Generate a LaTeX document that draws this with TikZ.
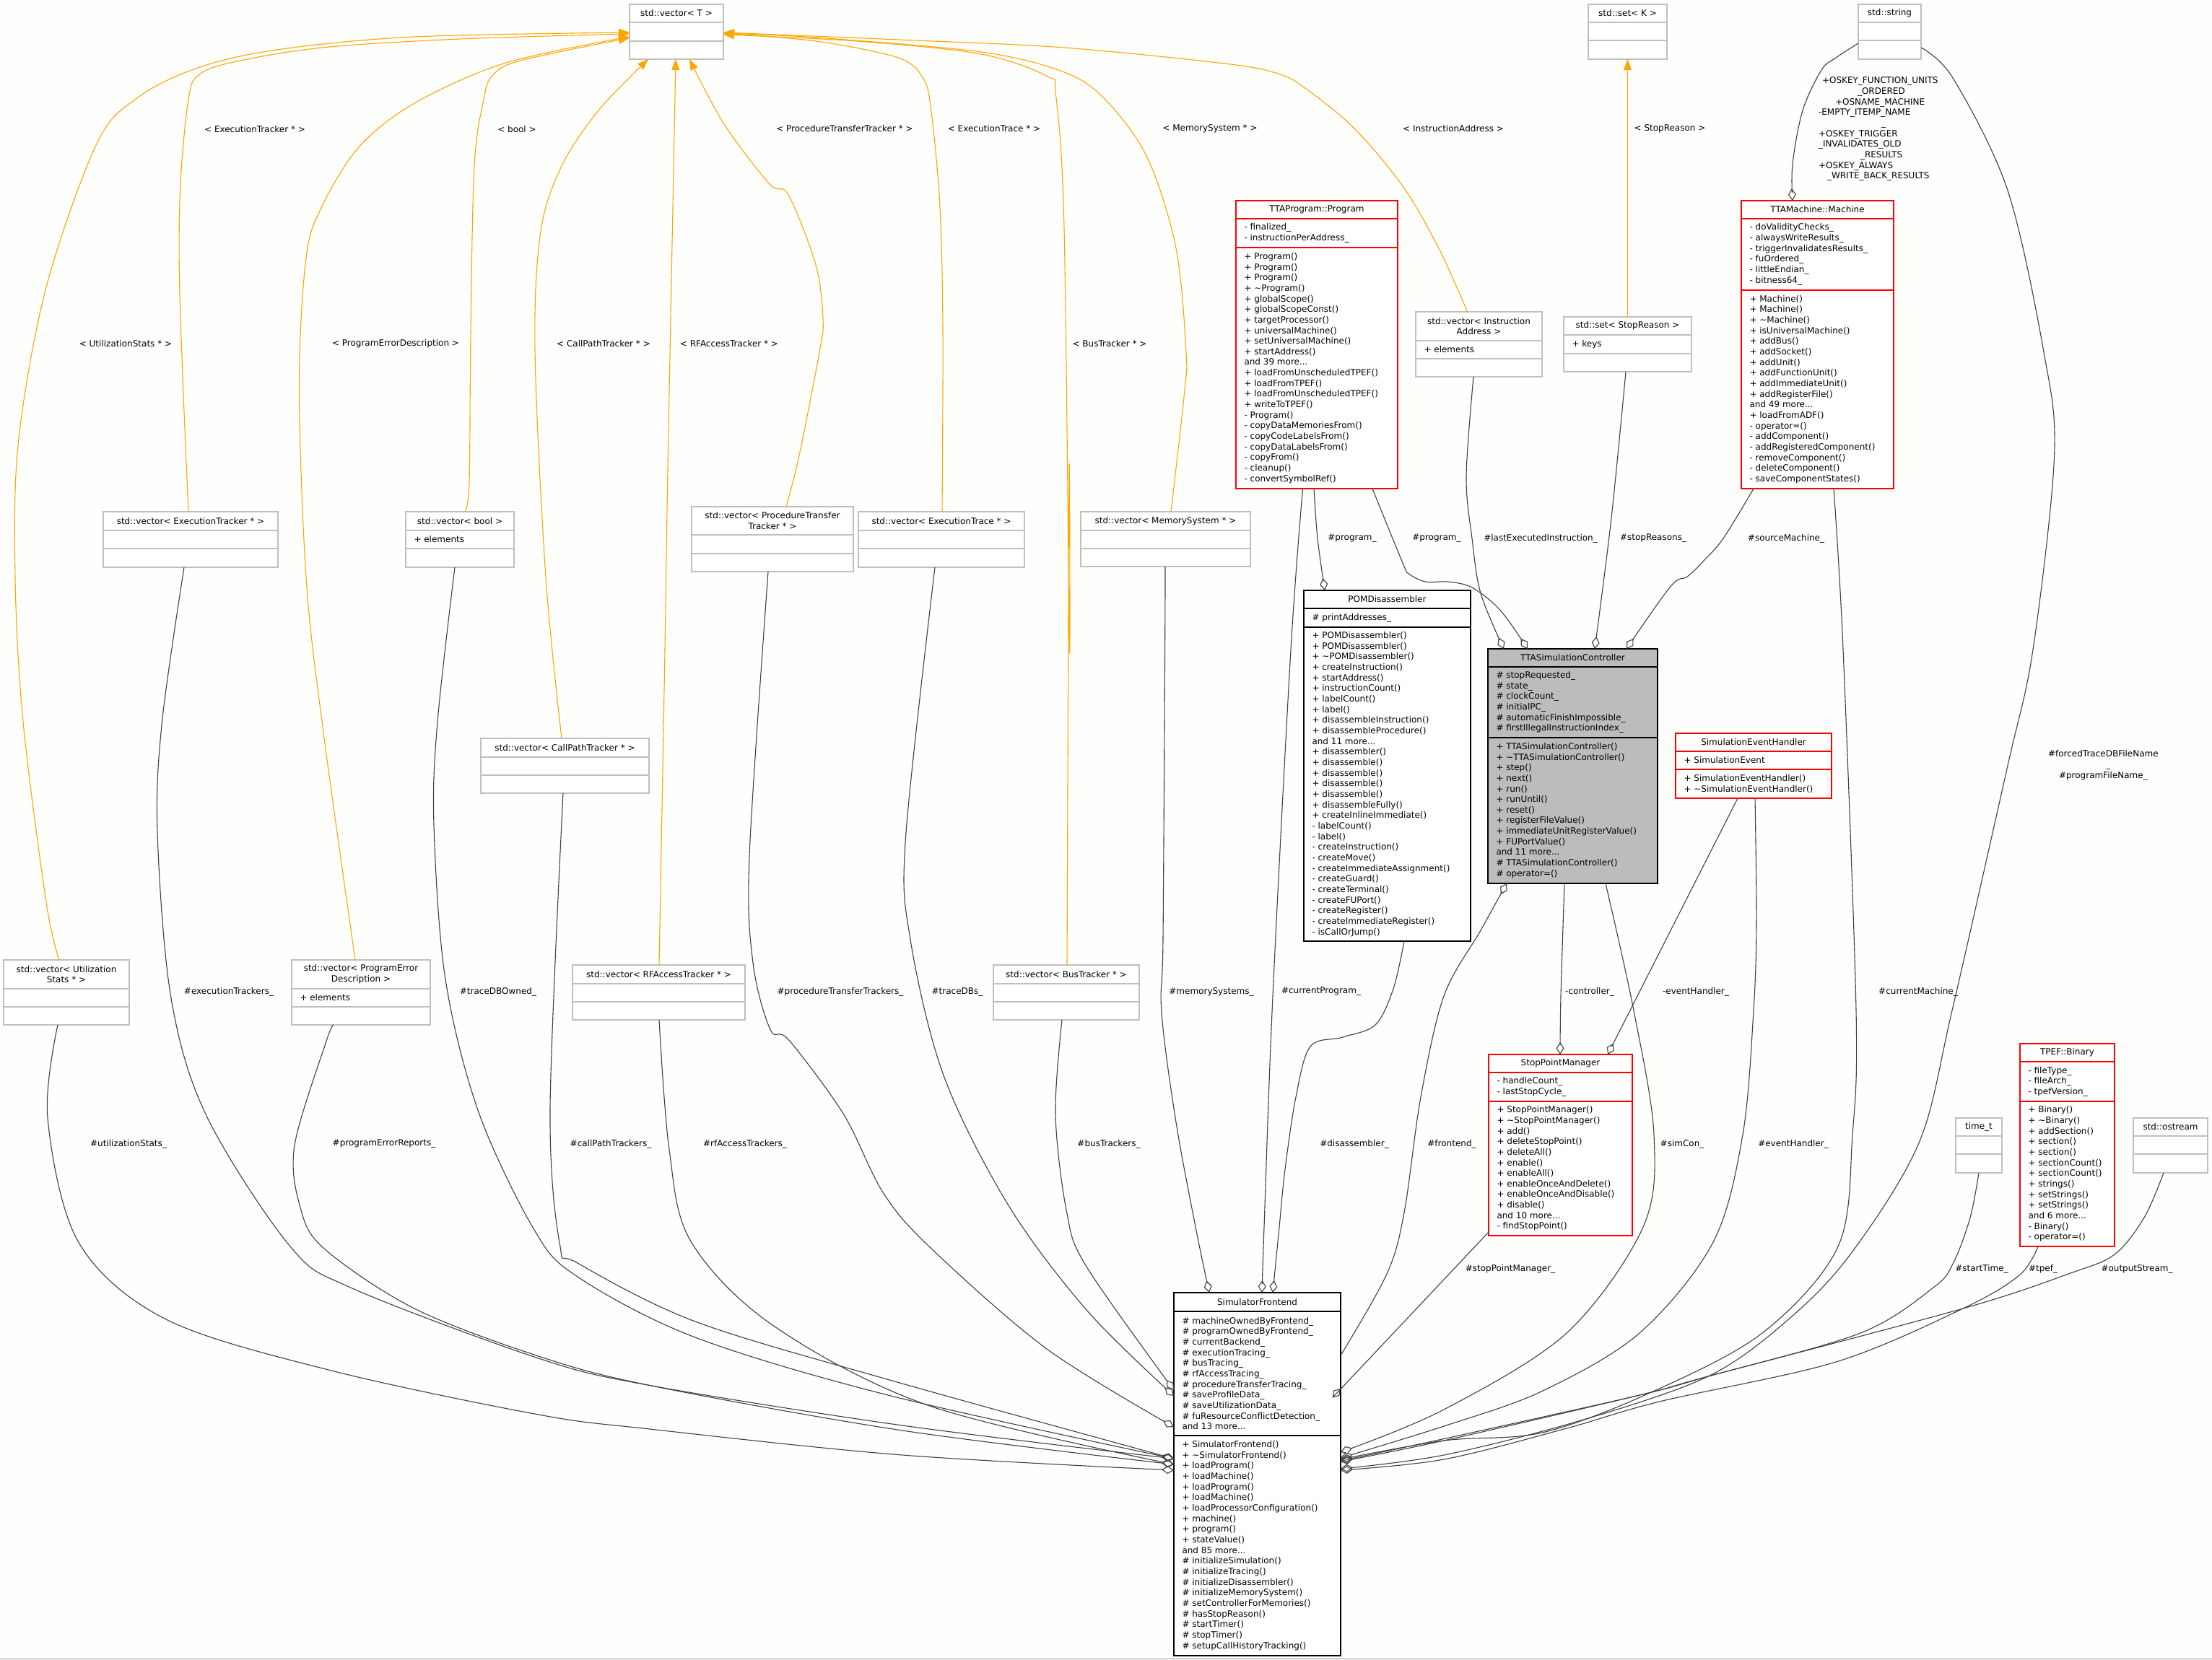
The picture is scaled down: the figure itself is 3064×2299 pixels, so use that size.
\documentclass[tikz,border=0pt]{standalone}
\usepackage{fontspec}
\setmainfont{DejaVu Sans}
\usetikzlibrary{arrows.meta,calc}
\definecolor{bgc}{RGB}{254,254,253}
\definecolor{boxgray}{RGB}{191,191,191}
\definecolor{ttagray}{RGB}{187,189,186}
\definecolor{edgec}{RGB}{64,64,64}
\definecolor{inh}{RGB}{255,165,0}
\newcommand{\tld}{\textasciitilde}
\newcommand{\us}{\_}
\newcommand{\umlfont}{\fontsize{12}{14.66}\selectfont}
\tikzset{
 x=1pt,y=-1pt,
 gbox/.style={draw=boxgray,line width=1.4pt},
 rbox/.style={draw=red,line width=1.4pt},
 kbox/.style={draw=black,line width=1.4pt},
 tbox/.style={draw=black,fill=ttagray,line width=1.4pt},
 utext/.style={inner sep=0pt,outer sep=0pt,font=\umlfont,text=black},
 elab/.style={inner sep=0pt,outer sep=0pt,font=\umlfont,text=black,align=center},
 aggr/.style={draw=edgec,line width=1.1pt,-{Diamond[open,length=17pt,width=11pt]}},
 inhr/.style={draw=inh,line width=1.1pt,-{Triangle[length=15pt,width=11pt,fill=inh]}},
 sm/.style={smooth,tension=.55},
}
% id x0 y0 x1 y1 y2 y3 style title ; then {attrs}{methods}
\newcommand{\uml}[9]{%
 \pgfmathsetmacro{\bw}{#4-#2}\pgfmathsetmacro{\bh}{#7-#3}%
 \node[fill=white,#8,rectangle,inner sep=0pt,outer sep=0pt,minimum width=\bw pt,minimum height=\bh pt,anchor=north west] (#1) at (#2,#3) {};%
 \draw[#8,fill=none] (#1.west |- 0,#5) -- (#1.east |- 0,#5);%
 \draw[#8,fill=none] (#1.west |- 0,#6) -- (#1.east |- 0,#6);%
 \pgfmathsetmacro{\tmx}{(#2+#4)/2}\pgfmathsetmacro{\tmy}{(#3+#5)/2}%
 \node[utext,align=center] (#1-t) at (\tmx,\tmy) {#9};%
 \pgfmathsetmacro{\tlx}{#2+11.5}\pgfmathsetmacro{\tay}{(#5+#6)/2}\pgfmathsetmacro{\tby}{(#6+#7)/2}%
 \def\curid{#1}\umlnext}
\newcommand{\umlnext}[2]{%
 \if\relax\detokenize{#1}\relax\else\node[utext,align=left,anchor=west] (\curid-a) at (\tlx,\tay) {#1};\fi
 \if\relax\detokenize{#2}\relax\else\node[utext,align=left,anchor=west] (\curid-m) at (\tlx,\tby) {#2};\fi}
\begin{document}
\begin{tikzpicture}
\useasboundingbox (0,0) rectangle (3064,2299);
\fill[bgc] (0,0) rectangle (3064,2299);
\draw[draw=black!40,line width=1pt] (0,2298.5) -- (3064,2298.5);

\uml{vecT}{872}{6}{1002}{31}{57}{82}{gbox}{std::vector< T >}{}{}
\uml{setK}{2200}{6}{2309}{31}{56}{82}{gbox}{std::set< K >}{}{}
\uml{str}{2574}{6}{2661}{31}{56}{82}{gbox}{std::string}{}{}
\uml{prog}{1712}{278}{1936}{303}{343}{677}{rbox}{TTAProgram::Program}
 {- finalized\us\\- instructionPerAddress\us}
 {+ Program()\\+ Program()\\+ Program()\\+ \tld Program()\\+ globalScope()\\+ globalScopeConst()\\+ targetProcessor()\\+ universalMachine()\\+ setUniversalMachine()\\+ startAddress()\\and 39 more...\\+ loadFromUnscheduledTPEF()\\+ loadFromTPEF()\\+ loadFromUnscheduledTPEF()\\+ writeToTPEF()\\- Program()\\- copyDataMemoriesFrom()\\- copyCodeLabelsFrom()\\- copyDataLabelsFrom()\\- copyFrom()\\- cleanup()\\- convertSymbolRef()}
\uml{mach}{2412}{278}{2623}{303}{402}{677}{rbox}{TTAMachine::Machine}
 {- doValidityChecks\us\\- alwaysWriteResults\us\\- triggerInvalidatesResults\us\\- fuOrdered\us\\- littleEndian\us\\- bitness64\us}
 {+ Machine()\\+ Machine()\\+ \tld Machine()\\+ isUniversalMachine()\\+ addBus()\\+ addSocket()\\+ addUnit()\\+ addFunctionUnit()\\+ addImmediateUnit()\\+ addRegisterFile()\\and 49 more...\\+ loadFromADF()\\- operator=()\\- addComponent()\\- addRegisteredComponent()\\- removeComponent()\\- deleteComponent()\\- saveComponentStates()}
\uml{instr}{1961}{432}{2136}{472}{497}{522}{gbox}{std::vector< Instruction\\Address >}{+ elements}{}
\uml{setS}{2166}{439}{2343}{464}{490}{515}{gbox}{std::set< StopReason >}{+ keys}{}
\uml{pom}{1806}{818}{2037}{843}{869}{1304}{kbox}{POMDisassembler}
 {\# printAddresses\us}
 {+ POMDisassembler()\\+ POMDisassembler()\\+ \tld POMDisassembler()\\+ createInstruction()\\+ startAddress()\\+ instructionCount()\\+ labelCount()\\+ label()\\+ disassembleInstruction()\\+ disassembleProcedure()\\and 11 more...\\+ disassembler()\\+ disassemble()\\+ disassemble()\\+ disassemble()\\+ disassemble()\\+ disassembleFully()\\+ createInlineImmediate()\\- labelCount()\\- label()\\- createInstruction()\\- createMove()\\- createImmediateAssignment()\\- createGuard()\\- createTerminal()\\- createFUPort()\\- createRegister()\\- createImmediateRegister()\\- isCallOrJump()}
\uml{tta}{2061}{899}{2296}{924}{1022}{1224}{tbox}{TTASimulationController}
 {\# stopRequested\us\\\# state\us\\\# clockCount\us\\\# initialPC\us\\\# automaticFinishImpossible\us\\\# firstIllegalInstructionIndex\us}
 {+ TTASimulationController()\\+ \tld TTASimulationController()\\+ step()\\+ next()\\+ run()\\+ runUntil()\\+ reset()\\+ registerFileValue()\\+ immediateUnitRegisterValue()\\+ FUPortValue()\\and 11 more...\\\# TTASimulationController()\\\# operator=()}
\uml{seh}{2321}{1016}{2537}{1041}{1066}{1106}{rbox}{SimulationEventHandler}{+ SimulationEvent}{+ SimulationEventHandler()\\+ \tld SimulationEventHandler()}
\uml{spm}{2062}{1461}{2261}{1486}{1526}{1712}{rbox}{StopPointManager}
 {- handleCount\us\\- lastStopCycle\us}
 {+ StopPointManager()\\+ \tld StopPointManager()\\+ add()\\+ deleteStopPoint()\\+ deleteAll()\\+ enable()\\+ enableAll()\\+ enableOnceAndDelete()\\+ enableOnceAndDisable()\\+ disable()\\and 10 more...\\- findStopPoint()}
\uml{tpef}{2798}{1446}{2929}{1471}{1526}{1727}{rbox}{TPEF::Binary}
 {- fileType\us\\- fileArch\us\\- tpefVersion\us}
 {+ Binary()\\+ \tld Binary()\\+ addSection()\\+ section()\\+ section()\\+ sectionCount()\\+ sectionCount()\\+ strings()\\+ setStrings()\\+ setStrings()\\and 6 more...\\- Binary()\\- operator=()}
\uml{timet}{2709}{1549}{2773}{1574}{1599}{1625}{gbox}{time\us t}{}{}
\uml{ostr}{2955}{1549}{3058}{1574}{1599}{1625}{gbox}{std::ostream}{}{}
\uml{sf}{1626}{1791}{1857}{1817}{1989}{2294}{kbox}{SimulatorFrontend}
 {\# machineOwnedByFrontend\us\\\# programOwnedByFrontend\us\\\# currentBackend\us\\\# executionTracing\us\\\# busTracing\us\\\# rfAccessTracing\us\\\# procedureTransferTracing\us\\\# saveProfileData\us\\\# saveUtilizationData\us\\\# fuResourceConflictDetection\us\\and 13 more...}
 {+ SimulatorFrontend()\\+ \tld SimulatorFrontend()\\+ loadProgram()\\+ loadMachine()\\+ loadProgram()\\+ loadMachine()\\+ loadProcessorConfiguration()\\+ machine()\\+ program()\\+ stateValue()\\and 85 more...\\\# initializeSimulation()\\\# initializeTracing()\\\# initializeDisassembler()\\\# initializeMemorySystem()\\\# setControllerForMemories()\\\# hasStopReason()\\\# startTimer()\\\# stopTimer()\\\# setupCallHistoryTracking()}
\uml{vUt}{5}{1330}{179}{1370}{1395}{1420}{gbox}{std::vector< Utilization\\Stats * >}{}{}
\uml{vEx}{143}{709}{385}{735}{760}{786}{gbox}{std::vector< ExecutionTracker * >}{}{}
\uml{vPe}{404}{1330}{596}{1370}{1395}{1420}{gbox}{std::vector< ProgramError\\Description >}{+ elements}{}
\uml{vBo}{562}{709}{712}{735}{760}{786}{gbox}{std::vector< bool >}{+ elements}{}
\uml{vCp}{666}{1023}{899}{1049}{1074}{1099}{gbox}{std::vector< CallPathTracker * >}{}{}
\uml{vRf}{793}{1337}{1032}{1363}{1388}{1413}{gbox}{std::vector< RFAccessTracker * >}{}{}
\uml{vPt}{958}{702}{1182}{741}{767}{792}{gbox}{std::vector< ProcedureTransfer\\Tracker * >}{}{}
\uml{vEt}{1189}{709}{1419}{735}{760}{786}{gbox}{std::vector< ExecutionTrace * >}{}{}
\uml{vBu}{1376}{1337}{1578}{1363}{1388}{1413}{gbox}{std::vector< BusTracker * >}{}{}
\uml{vMe}{1497}{709}{1732}{735}{760}{785}{gbox}{std::vector< MemorySystem * >}{}{}

% inheritance (template) edges
\draw[inhr] plot[sm] coordinates {(82,0 |- vUt.north) (64,1250) (32,1000) (21,800) (25.5,612) (64,398) (134,199) (191,135) (274,94) (383,69) (574,51) (vecT.west |- 0,45)};
\draw[inhr] plot[sm] coordinates {(261,0 |- vEx.north) (249,408) (250,255) (261,138) (274,105) (319,87) (446,66) (638,54) (vecT.west |- 0,47)};
\draw[inhr] plot[sm] coordinates {(492,0 |- vPe.north) (446,1000) (424,800) (414.5,536) (424,357) (446,286) (497,204) (574,143) (701,87) (vecT.west |- 0,51)};
\draw[inhr] plot[sm] coordinates {(644,0 |- vBo.north) (650,668) (652,459) (657,230) (670,138) (682,105) (721,84) (vecT.west |- 0,52.5)};
\draw[inhr] plot[sm] coordinates {(778,0 |- vCp.north) (756,800) (741,485) (749,321) (778,230) (829,153) (898,0 |- vecT.south)};
\draw[inhr] plot[sm] coordinates {(913,0 |- vRf.north) (921,900) (925,650) (936,0 |- vecT.south)};
\draw[inhr] plot[sm] coordinates {(1089,0 |- vPt.north) (1107,631) (1135,488) (1140,442) (1130,367) (1092,270) (1066,255) (1003,172) (955,0 |- vecT.south)};
\draw[inhr] plot[sm] coordinates {(1305,0 |- vEt.north) (1306,459) (1302,287) (1290,155) (1279,109) (1244,80) (1130,57) (vecT.east |- 0,46)};
\draw[inhr] plot[sm] coordinates {(1478,0 |- vBu.north) (1481,650) (1481.5,900) (1474,316) (1462.6,132) (1451,106) (1359,75) (1187,57) (vecT.east |- 0,48)};
\draw[inhr] plot[sm] coordinates {(1622,0 |- vMe.north) (1640.5,545) (1643,488) (1629,344) (1589,218) (1531,138) (1474,100) (1359,72) (1130,52) (vecT.east |- 0,46)};
\draw[inhr] plot[sm] coordinates {(2032.5,0 |- instr.north) (1993,344) (1943,258) (1876,178) (1809,123) (1773,103) (1704,89) (1474,66) (1244,55) (vecT.east |- 0,45)};
\draw[inhr] (setS.north) -- (setK.south);

% aggregation edges into the simulator frontend, left side
\draw[aggr] plot[sm] coordinates {(80,0 |- vUt.south) (66,1549) (109,1721.5) (230,1828) (459,1899) (746,1960) (900,1980) (1250,2016) (sf.west |- 0,2037)};
\draw[aggr] plot[sm] coordinates {(255,0 |- vEx.south) (224.5,1000) (218,1153) (237,1383) (286,1546) (402,1727) (488,1785) (746,1882) (900,1919.5) (1250,1975) (sf.west |- 0,2021)};
\draw[aggr] plot[sm] coordinates {(462,0 |- vPe.south) (451.5,1444) (408,1587) (416,1673) (449,1730) (574,1813) (746,1879) (900,1919.5) (1250,1982) (sf.west |- 0,2029)};
\draw[aggr] plot[sm] coordinates {(630,0 |- vBo.south) (606,1000) (601,1143) (617,1357) (663,1541) (740,1704) (800,1769) (963,1853) (1234,1934) (sf.west |- 0,2021)};
\draw[aggr] plot[sm] coordinates {(780,0 |- vCp.south) (762,1536) (775.5,1724.5) (800,1750) (963,1831) (1234,1912.5) (sf.west |- 0,2021)};
\draw[aggr] plot[sm] coordinates {(913,0 |- vRf.south) (927,1593) (957,1720) (1071,1836.6) (1288,1948) (sf.west |- 0,2029)};
\draw[aggr] plot[sm] coordinates {(1064,0 |- vPt.south) (1038,1186) (1043,1334) (1067,1426.5) (1092.7,1441) (1168.6,1544) (1223,1652) (1288,1728) (1450,1869) (sf.west |- 0,1977)};
\draw[aggr] plot[sm] coordinates {(1295,0 |- vEt.south) (1254.5,1160) (1260.7,1300) (1307,1490) (1396,1668.6) (1505,1815) (sf.west |- 0,1934)};
\draw[aggr] plot[sm] coordinates {(1471,0 |- vBu.south) (1462,1544) (1477.5,1679) (1505,1755) (sf.west |- 0,1926)};
% top side
\draw[aggr] plot[sm] coordinates {(1614,0 |- vMe.south) (1613.6,900) (1611,1300) (1609,1403) (1629,1555) (1656,1700) (1675,0 |- sf.north)};
\draw[aggr] plot[sm] coordinates {(1804.5,0 |- prog.south) (1788,900) (1763,1380) (1751,1700) (1748,0 |- sf.north)};
\draw[aggr] plot[sm] coordinates {(1945,0 |- pom.south) (1930,1370) (1905,1420) (1860,1437) (1815,1450) (1795,1520) (1780,1620) (1772,1700) (1763,0 |- sf.north)};
% around the program and controller
\draw[aggr] plot[sm] coordinates {(1820,0 |- prog.south) (1825,746) (1835,0 |- pom.north)};
\draw[aggr] plot[sm] coordinates {(1901,0 |- prog.south) (1943,780) (1951.5,795) (1974.5,806) (2005,806) (2036,812.5) (2066,833.6) (2087,856.5) (2116,0 |- tta.north)};
\draw[aggr] plot[sm] coordinates {(2041,0 |- instr.south) (2031,660) (2039,746) (2051,822) (2083,0 |- tta.north)};
\draw[aggr] plot[sm] coordinates {(2252,0 |- setS.south) (2232,717.5) (2209,0 |- tta.north)};
\draw[aggr] plot[sm] coordinates {(2429,0 |- mach.south) (2387,746) (2357,780) (2337,799) (2314,812.5) (2253,0 |- tta.north)};
\draw[aggr] plot[sm] coordinates {(2574,0 |- 0,60) (2543,80) (2523,97) (2497,153) (2483,227) (2483,0 |- mach.north)};
\draw[aggr] plot[sm] coordinates {(sf.east |- 0,1878) (1921,1765) (1945,1680) (1968,1520) (2000,1380) (2051,1289) (2087,0 |- tta.south)};
\draw[aggr] plot[sm] coordinates {(2167,0 |- tta.south) (2162,1380) (2161,0 |- spm.north)};
\draw[aggr] plot[sm] coordinates {(2407,0 |- seh.south) (2268,1380) (2227,0 |- spm.north)};
\draw[aggr] plot[sm] coordinates {(spm.west |- 0,1707) (1867,1914) (sf.east |- 0,1924)};
% right side into the frontend
\draw[aggr] plot[sm] coordinates {(2224,0 |- tta.south) (2263,1400) (2291,1572) (2276,1700) (2170,1847) (2000,1953) (sf.east |- 0,2012)};
\draw[aggr] plot[sm] coordinates {(2431,0 |- seh.south) (2433,1277) (2429,1400) (2414,1572) (2373,1721) (2271,1847) (2136,1927.5) (2000,1976) (sf.east |- 0,2020)};
\draw[aggr] plot[sm] coordinates {(2540,0 |- mach.south) (2553,900) (2571,1400) (2566,1572) (2546,1727) (2441,1847) (2285,1930) (2136,1985) (2000,1996) (sf.east |- 0,2022)};
\draw[aggr] plot[sm] coordinates {(2661,0 |- 0,66) (2705.6,109) (2781,264) (2831,488) (2845.6,631) (2816,900) (2780,1065) (2704,1400) (2658,1583.5) (2563,1738) (2475,1830) (2366,1907) (2190,1968) (2000,2016) (sf.east |- 0,2035)};
\draw[aggr] plot[sm] coordinates {(2741,0 |- timet.south) (2729,1687) (2705.6,1750) (2678,1784) (2577,1847) (2366,1907) (2271,1933) (2000,1993.5) (sf.east |- 0,2024)};
\draw[aggr] plot[sm] coordinates {(2823,0 |- tpef.south) (2797,1767) (2719,1813) (2543,1887) (2298.5,1942) (2170,1979) (2000,2022) (sf.east |- 0,2037)};
\draw[aggr] plot[sm] coordinates {(2997,0 |- ostr.south) (2970,1687) (2929,1738) (2868,1764) (2719,1813) (2366,1907) (2271,1933) (2000,1996) (sf.east |- 0,2025)};

% edge labels
\node[elab] (l1) at (174,476.5) {< UtilizationStats * >};
\node[elab] (l2) at (353,178.6) {< ExecutionTracker * >};
\node[elab] (l3) at (548,476.5) {< ProgramErrorDescription >};
\node[elab] (l4) at (716,178.6) {< bool >};
\node[elab] (l5) at (836,476.5) {< CallPathTracker * >};
\node[elab] (l6) at (1010,476.5) {< RFAccessTracker * >};
\node[elab] (l7) at (1170,178.5) {< ProcedureTransferTracker * >};
\node[elab] (l8) at (1377,178.5) {< ExecutionTrace * >};
\node[elab] (l9) at (1676,178.5) {< MemorySystem * >};
\node[elab] (l10) at (1537,476.5) {< BusTracker * >};
\node[elab] (l11) at (2013,178.5) {< InstructionAddress >};
\node[elab] (l12) at (2313,178.5) {< StopReason >};
\node[elab] (l13) at (1873,746) {\#program\us};
\node[elab] (l14) at (1990,746) {\#program\us};
\node[elab] (l15) at (2134,746) {\#lastExecutedInstruction\us};
\node[elab] (l16) at (2290,746) {\#stopReasons\us};
\node[elab] (l17) at (2474,746) {\#sourceMachine\us};
\node[elab] (l18) at (317,1374) {\#executionTrackers\us};
\node[elab] (l19) at (690,1374) {\#traceDBOwned\us};
\node[elab] (l20) at (178,1585) {\#utilizationStats\us};
\node[elab] (l21) at (532,1585) {\#programErrorReports\us};
\node[elab] (l22) at (1164,1374.5) {\#procedureTransferTrackers\us};
\node[elab] (l23) at (1326,1374.5) {\#traceDBs\us};
\node[elab] (l24) at (846,1585) {\#callPathTrackers\us};
\node[elab] (l25) at (1032,1585) {\#rfAccessTrackers\us};
\node[elab] (l26) at (1536,1585) {\#busTrackers\us};
\node[elab] (l27) at (1678,1374) {\#memorySystems\us};
\node[elab] (l28) at (1830,1374) {\#currentProgram\us};
\node[elab] (l29) at (2202,1374) {-controller\us};
\node[elab] (l30) at (2349,1374) {-eventHandler\us};
\node[elab] (l31) at (2330,1585) {\#simCon\us};
\node[elab] (l32) at (2484,1585) {\#eventHandler\us};
\node[elab] (l33) at (2011,1585) {\#frontend\us};
\node[elab] (l34) at (1876,1585) {\#disassembler\us};
\node[elab] (l35) at (2092,1758) {\#stopPointManager\us};
\node[elab] (l36) at (2745,1758) {\#startTime\us};
\node[elab] (l37) at (2830,1758) {\#tpef\us};
\node[elab] (l38) at (2960,1758) {\#outputStream\us};
\node[elab] (l39) at (2657,1374) {\#currentMachine\us};
\node[elab,align=left,anchor=west] (l40) at (2519,178.7) {\hspace*{5pt}+OSKEY\us FUNCTION\us UNITS\\\hspace*{54pt}\us ORDERED\\\hspace*{23pt}+OSNAME\us MACHINE\\-EMPTY\us ITEMP\us NAME\\\hspace*{87pt}\us\\+OSKEY\us TRIGGER\\\us INVALIDATES\us OLD\\\hspace*{58pt}\us RESULTS\\+OSKEY\us ALWAYS\\\hspace*{12pt}\us WRITE\us BACK\us RESULTS};
\node[elab,align=left,anchor=west] (l41) at (2837,1060.5) {\#forcedTraceDBFileName\\\hspace*{80pt}\us\\\hspace*{15pt}\#programFileName\us};
\end{tikzpicture}
\end{document}
